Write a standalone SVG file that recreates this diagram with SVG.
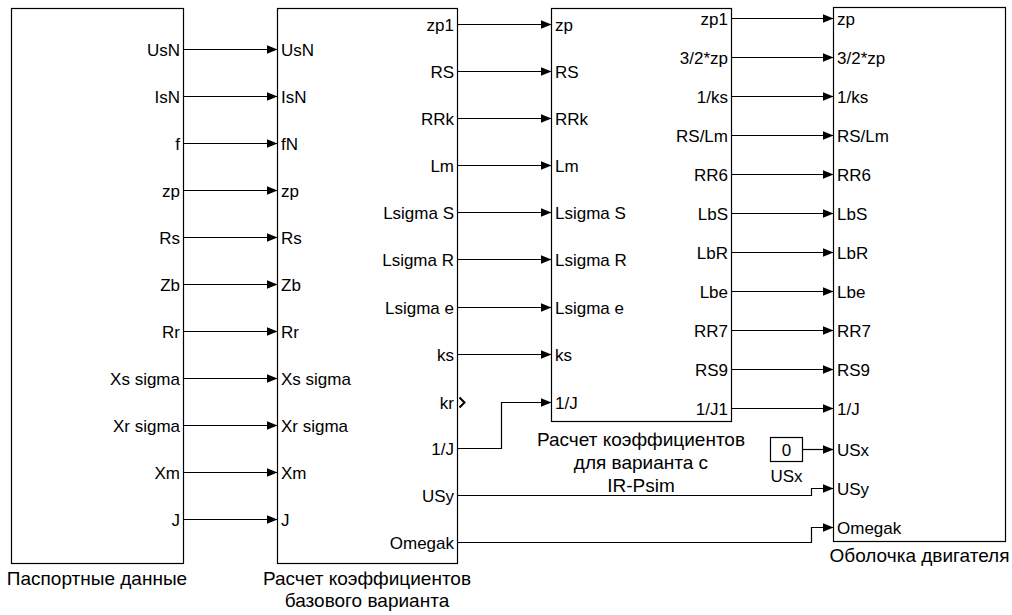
<svg xmlns="http://www.w3.org/2000/svg" width="1012" height="615" viewBox="0 0 1012 615">
<defs>
<style>
.blk{fill:#fff;stroke:#000;stroke-width:1.2}
.ln{fill:none;stroke:#000;stroke-width:1.2}
text{font-family:"Liberation Sans",Arial,sans-serif;fill:#000}
.p{font-size:17px}
.in{text-anchor:start}
.out{text-anchor:end}
.nm{font-size:19px;text-anchor:middle}
</style>
<marker id="ah" markerUnits="userSpaceOnUse" markerWidth="12" markerHeight="10" refX="11" refY="4.5" orient="auto">
<path d="M0,0 L11,4.5 L0,9 z" fill="#000"/>
</marker>
</defs>
<rect width="1012" height="615" fill="#fff"/>

<g id="connectors">
<g marker-end="url(#ah)" class="ln">
<path class="ln" d="M183.5,49.5 H277.5"/>
<path class="ln" d="M183.5,96.5 H277.5"/>
<path class="ln" d="M183.5,143.5 H277.5"/>
<path class="ln" d="M183.5,190.5 H277.5"/>
<path class="ln" d="M183.5,237.5 H277.5"/>
<path class="ln" d="M183.5,284.5 H277.5"/>
<path class="ln" d="M183.5,331.5 H277.5"/>
<path class="ln" d="M183.5,378.5 H277.5"/>
<path class="ln" d="M183.5,425.5 H277.5"/>
<path class="ln" d="M183.5,472.5 H277.5"/>
<path class="ln" d="M183.5,519.5 H277.5"/>

<path class="ln" d="M457.5,24.5 H551.5"/>
<path class="ln" d="M457.5,71.5 H551.5"/>
<path class="ln" d="M457.5,118.5 H551.5"/>
<path class="ln" d="M457.5,165.5 H551.5"/>
<path class="ln" d="M457.5,212.5 H551.5"/>
<path class="ln" d="M457.5,259.5 H551.5"/>
<path class="ln" d="M457.5,307.5 H551.5"/>
<path class="ln" d="M457.5,354.5 H551.5"/>
<path class="ln" d="M457.5,448.5 H501.5 V402.5 H551.5"/>

<path class="ln" d="M731.5,18.5 H833.5"/>
<path class="ln" d="M731.5,57.5 H833.5"/>
<path class="ln" d="M731.5,96.5 H833.5"/>
<path class="ln" d="M731.5,135.5 H833.5"/>
<path class="ln" d="M731.5,174.5 H833.5"/>
<path class="ln" d="M731.5,213.5 H833.5"/>
<path class="ln" d="M731.5,252.5 H833.5"/>
<path class="ln" d="M731.5,291.5 H833.5"/>
<path class="ln" d="M731.5,330.5 H833.5"/>
<path class="ln" d="M731.5,369.5 H833.5"/>
<path class="ln" d="M731.5,408.5 H833.5"/>
<path class="ln" d="M802.5,449.5 H833.5"/>
<path class="ln" d="M457.5,495.5 H811.5 V488.5 H833.5"/>
<path class="ln" d="M457.5,542.5 H811.5 V527.5 H833.5"/>
</g>
</g>

<g id="passport">
<rect class="blk" x="11.5" y="8.5" width="172" height="555"/>
<g class="p out">
<text x="180" y="55.5">UsN</text>
<text x="180" y="102.5">IsN</text>
<text x="180" y="149.5">f</text>
<text x="180" y="196.5">zp</text>
<text x="180" y="243.5">Rs</text>
<text x="180" y="290.5">Zb</text>
<text x="180" y="337.5">Rr</text>
<text x="180" y="384.5">Xs sigma</text>
<text x="180" y="431.5">Xr sigma</text>
<text x="180" y="478.5">Xm</text>
<text x="180" y="525.5">J</text>
</g>
<text class="nm" x="97" y="585">Паспортные данные</text>
</g>

<g id="base">
<rect class="blk" x="277.5" y="8.5" width="180" height="555"/>
<g class="p in">
<text x="281" y="55.5">UsN</text>
<text x="281" y="102.5">IsN</text>
<text x="281" y="149.5">fN</text>
<text x="281" y="196.5">zp</text>
<text x="281" y="243.5">Rs</text>
<text x="281" y="290.5">Zb</text>
<text x="281" y="337.5">Rr</text>
<text x="281" y="384.5">Xs sigma</text>
<text x="281" y="431.5">Xr sigma</text>
<text x="281" y="478.5">Xm</text>
<text x="281" y="525.5">J</text>
</g>
<g class="p out">
<text x="454" y="30.5">zp1</text>
<text x="454" y="77.5">RS</text>
<text x="454" y="124.5">RRk</text>
<text x="454" y="171.5">Lm</text>
<text x="454" y="218.5">Lsigma S</text>
<text x="454" y="265.5">Lsigma R</text>
<text x="454" y="313.5">Lsigma e</text>
<text x="454" y="360.5">ks</text>
<text x="454" y="408.5">kr</text>
<text x="454" y="454.5">1/J</text>
<text x="454" y="501.5">USy</text>
<text x="454" y="548.5">Omegak</text>
</g>
<polyline class="ln" points="459.5,397.5 464.5,402.5 459.5,407.5" style="stroke-width:2"/>
<text class="nm" x="367" y="585">Расчет коэффициентов</text>
<text class="nm" x="367" y="607">базового варианта</text>
</g>

<g id="irpsim">
<rect class="blk" x="551.5" y="8.5" width="180" height="413"/>
<g class="p in">
<text x="555" y="30.5">zp</text>
<text x="555" y="77.5">RS</text>
<text x="555" y="124.5">RRk</text>
<text x="555" y="171.5">Lm</text>
<text x="555" y="218.5">Lsigma S</text>
<text x="555" y="265.5">Lsigma R</text>
<text x="555" y="313.5">Lsigma e</text>
<text x="555" y="360.5">ks</text>
<text x="555" y="408.5">1/J</text>
</g>
<g class="p out">
<text x="728" y="24.5">zp1</text>
<text x="728" y="63.5">3/2*zp</text>
<text x="728" y="102.5">1/ks</text>
<text x="728" y="141.5">RS/Lm</text>
<text x="728" y="180.5">RR6</text>
<text x="728" y="219.5">LbS</text>
<text x="728" y="258.5">LbR</text>
<text x="728" y="297.5">Lbe</text>
<text x="728" y="336.5">RR7</text>
<text x="728" y="375.5">RS9</text>
<text x="728" y="414.5">1/J1</text>
</g>
<text class="nm" x="641" y="446">Расчет коэффициентов</text>
<text class="nm" x="641" y="469">для варианта с</text>
<text class="nm" x="641" y="492">IR-Psim</text>
</g>

<g id="usx">
<rect class="blk" x="770.5" y="437.5" width="32" height="24"/>
<text class="p" x="786.5" y="455.5" text-anchor="middle">0</text>
<text class="p" x="786.5" y="481.5" text-anchor="middle">USx</text>
</g>

<g id="motor">
<rect class="blk" x="833.5" y="7.5" width="172" height="534"/>
<g class="p in">
<text x="837" y="24.5">zp</text>
<text x="837" y="63.5">3/2*zp</text>
<text x="837" y="102.5">1/ks</text>
<text x="837" y="141.5">RS/Lm</text>
<text x="837" y="180.5">RR6</text>
<text x="837" y="219.5">LbS</text>
<text x="837" y="258.5">LbR</text>
<text x="837" y="297.5">Lbe</text>
<text x="837" y="336.5">RR7</text>
<text x="837" y="375.5">RS9</text>
<text x="837" y="414.5">1/J</text>
<text x="837" y="455.5">USx</text>
<text x="837" y="494.5">USy</text>
<text x="837" y="533.5">Omegak</text>
</g>
<text class="nm" x="919.5" y="562">Оболочка двигателя</text>
</g>
</svg>
